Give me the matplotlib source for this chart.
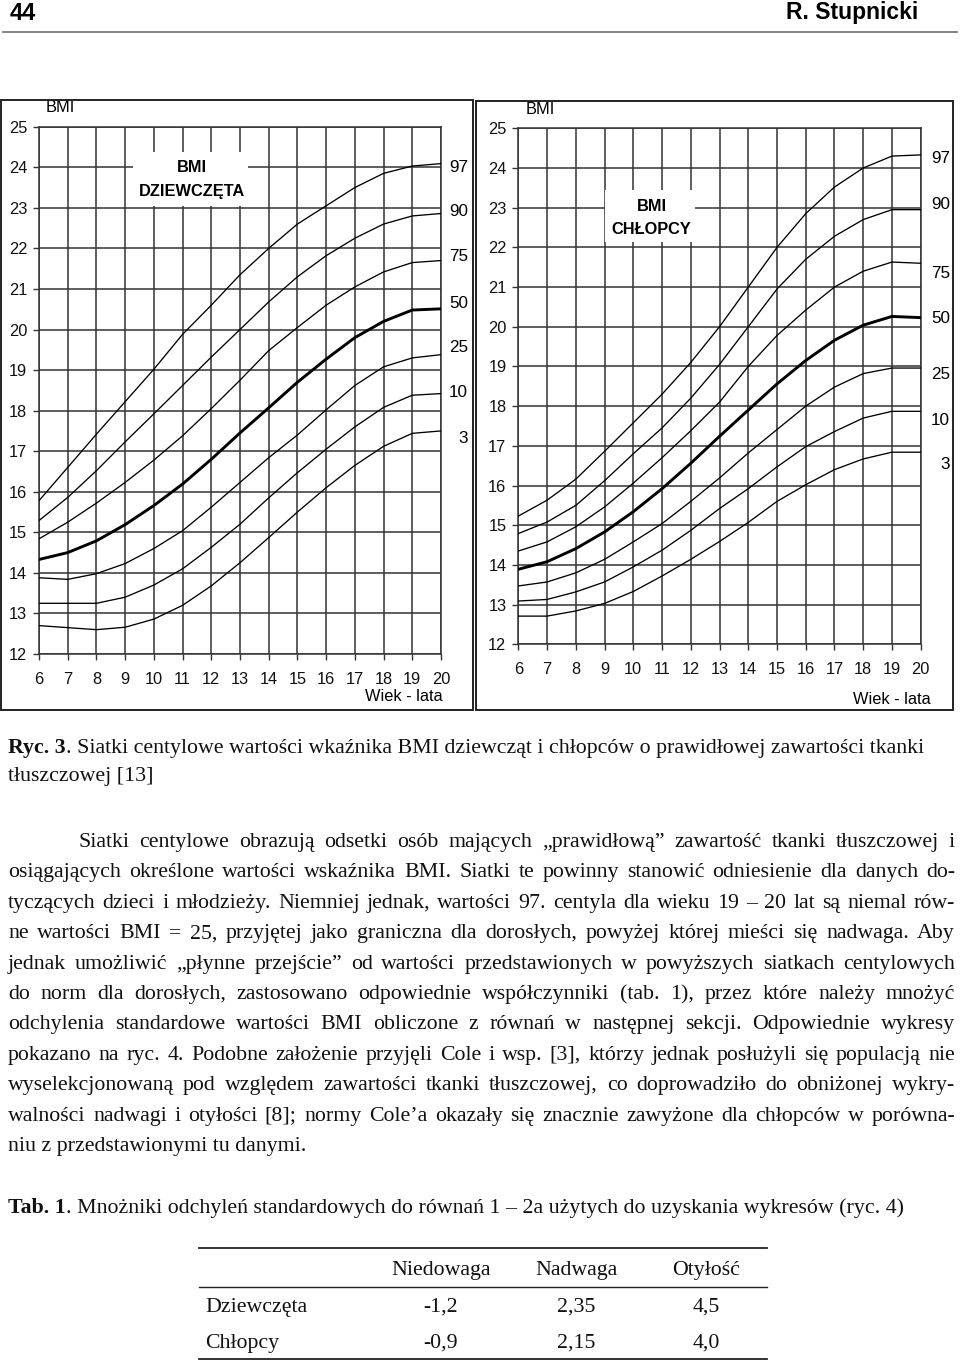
import matplotlib
matplotlib.use("Agg")
import matplotlib.pyplot as plt
from matplotlib.patches import Rectangle

W, H = 960, 1362
SANS = "Liberation Sans"
SERIF = "Liberation Serif"
GRID_C = "#333333"

# --- data (BMI at ages 6..20) -------------------------------------------------
AGES = list(range(6, 21))
CENTILES = [97, 90, 75, 50, 25, 10, 3]

girls_p97 = [15.78, 16.60, 17.42, 18.22, 19.02, 19.88, 20.60, 21.35, 22.00, 22.60, 23.05, 23.50, 23.85, 24.03, 24.09]
girls_p90 = [15.29, 15.86, 16.52, 17.23, 17.92, 18.62, 19.32, 20.00, 20.68, 21.30, 21.82, 22.25, 22.60, 22.80, 22.86]
girls_p75 = [14.84, 15.25, 15.72, 16.23, 16.78, 17.38, 18.05, 18.75, 19.48, 20.05, 20.60, 21.05, 21.42, 21.65, 21.70]
girls_p50 = [14.33, 14.50, 14.79, 15.19, 15.66, 16.19, 16.80, 17.45, 18.07, 18.70, 19.27, 19.80, 20.20, 20.48, 20.51]
girls_p25 = [13.88, 13.84, 13.98, 14.23, 14.60, 15.04, 15.62, 16.23, 16.84, 17.40, 18.02, 18.62, 19.08, 19.30, 19.38]
girls_p10 = [13.25, 13.25, 13.25, 13.40, 13.70, 14.10, 14.63, 15.20, 15.85, 16.47, 17.05, 17.60, 18.08, 18.38, 18.42]
girls_p3  = [12.70, 12.65, 12.60, 12.66, 12.86, 13.20, 13.68, 14.25, 14.87, 15.50, 16.10, 16.65, 17.12, 17.44, 17.50]

boys_p97 = [15.23, 15.63, 16.16, 16.86, 17.58, 18.30, 19.10, 20.00, 21.00, 22.00, 22.85, 23.52, 24.00, 24.30, 24.33]
boys_p90 = [14.79, 15.08, 15.50, 16.12, 16.80, 17.45, 18.20, 19.05, 20.00, 20.95, 21.70, 22.28, 22.70, 22.95, 22.95]
boys_p75 = [14.35, 14.58, 14.96, 15.46, 16.06, 16.70, 17.38, 18.10, 19.00, 19.78, 20.42, 21.00, 21.40, 21.63, 21.60]
boys_p50 = [13.89, 14.08, 14.41, 14.83, 15.34, 15.92, 16.56, 17.24, 17.90, 18.56, 19.15, 19.66, 20.04, 20.26, 20.23]
boys_p25 = [13.47, 13.57, 13.80, 14.14, 14.58, 15.04, 15.60, 16.19, 16.82, 17.41, 18.00, 18.48, 18.82, 18.96, 18.96]
boys_p10 = [13.09, 13.13, 13.32, 13.57, 13.95, 14.37, 14.87, 15.42, 15.92, 16.47, 16.98, 17.36, 17.70, 17.87, 17.87]
boys_p3  = [12.71, 12.71, 12.84, 13.03, 13.33, 13.72, 14.14, 14.59, 15.07, 15.60, 16.02, 16.40, 16.67, 16.84, 16.84]

# table 1
TAB_COLS = ["Niedowaga", "Nadwaga", "Otyłość"]
TAB_ROWS = ["Dziewczęta", "Chłopcy"]
girls_mult = ["-1,2", "2,35", "4,5"]
boys_mult = ["-0,9", "2,15", "4,0"]

CAPTION = ["Siatki centylowe wartości wkaźnika BMI dziewcząt i chłopców o prawidłowej zawartości tkanki",
           "tłuszczowej [13]"]
PARA = [
    "Siatki centylowe obrazują odsetki osób mających „prawidłową” zawartość tkanki tłuszczowej i",
    "osiągających określone wartości wskaźnika BMI. Siatki te powinny stanowić odniesienie dla danych do-",
    "tyczących dzieci i młodzieży. Niemniej jednak, wartości 97. centyla dla wieku 19 – 20 lat są niemal rów-",
    "ne wartości BMI = 25, przyjętej jako graniczna dla dorosłych, powyżej której mieści się nadwaga. Aby",
    "jednak umożliwić „płynne przejście” od wartości przedstawionych w powyższych siatkach centylowych",
    "do norm dla dorosłych, zastosowano odpowiednie współczynniki (tab. 1), przez które należy mnożyć",
    "odchylenia standardowe wartości BMI obliczone z równań w następnej sekcji. Odpowiednie wykresy",
    "pokazano na ryc. 4. Podobne założenie przyjęli Cole i wsp. [3], którzy jednak posłużyli się populacją nie",
    "wyselekcjonowaną pod względem zawartości tkanki tłuszczowej, co doprowadziło do obniżonej wykry-",
    "walności nadwagi i otyłości [8]; normy Cole’a okazały się znacznie zawyżone dla chłopców w porówna-",
    "niu z przedstawionymi tu danymi.",
]
TAB_TITLE = "Mnożniki odchyleń standardowych do równań 1 – 2a użytych do uzyskania wykresów (ryc. 4)"

fig = plt.figure(figsize=(W / 100, H / 100), dpi=100)
R = fig.canvas.get_renderer()

def fy(py): return 1 - py / H
def axes_px(x0, y0, x1, y1):
    return fig.add_axes([x0 / W, 1 - y1 / H, (x1 - x0) / W, (y1 - y0) / H])
def frame(x0, y0, x1, y1):
    fig.add_artist(Rectangle((x0 / W, fy(y1)), (x1 - x0) / W, (y1 - y0) / H,
                             transform=fig.transFigure, fill=False, lw=1.4, ec="#222222"))

# --- header ----------------------------------------------------------------
fig.text(10 / W, fy(13), "44", fontsize=17, family=SANS, weight="bold", va="center")
fig.text(918 / W, fy(13), "R. Stupnicki", fontsize=16.5, family=SANS, weight="bold",
         va="center", ha="right")
fig.add_artist(plt.Line2D([3 / W, 957 / W], [fy(32), fy(32)], color="#777777", lw=1.3))

# --- centile charts ---------------------------------------------------------
LS = 11.8  # chart label size

def chart(ax, series, title, box, title_xy, lab_x, lab_y, xlab_xy):
    ax.set_xlim(6, 20)
    ax.set_ylim(12, 25)
    ax.set_xticks(AGES)
    ax.set_yticks(range(12, 26))
    ax.grid(True, color=GRID_C, lw=1.1)
    ax.set_axisbelow(True)
    for s in ax.spines.values():
        s.set_color(GRID_C); s.set_linewidth(1.1)
    ax.tick_params(axis="y", direction="out", length=4, width=1, color=GRID_C,
                   labelsize=LS, pad=4.5)
    ax.tick_params(axis="x", direction="out", length=4, width=1, color=GRID_C,
                   labelsize=LS, pad=9)
    for lab in ax.get_xticklabels() + ax.get_yticklabels():
        lab.set_family(SANS)
        lab.set_color("#111111")
    for c, vals in zip(CENTILES, series):
        ax.plot(AGES, vals, color="black", lw=2.1 if c == 50 else 0.95, zorder=3,
                solid_joinstyle="round")
    bx0, by0, bx1, by1 = box
    ax.add_patch(Rectangle((bx0, by0), bx1 - bx0, by1 - by0, fc="white", ec="none", zorder=2))
    tx, ty0, ty1 = title_xy
    ax.text(tx, ty0, "BMI", ha="center", va="center", fontsize=LS, family=SANS,
            weight="bold", zorder=4)
    ax.text(tx, ty1, title, ha="center", va="center", fontsize=LS, family=SANS,
            weight="bold", zorder=4)
    for c, y in zip(CENTILES, lab_y):
        ax.text(lab_x, y, str(c), ha="right", va="center", fontsize=LS + 0.5, family=SANS)
    ax.text(6.75, 25.28, "BMI", ha="center", va="bottom", fontsize=LS, family=SANS)
    ax.text(xlab_xy[0], xlab_xy[1], "Wiek - lata", ha="center", va="center",
            fontsize=LS, family=SANS)

frame(1, 100, 473, 710)
frame(476, 101, 953, 710)

axg = axes_px(39, 126.7, 441, 654)
chart(axg, [girls_p97, girls_p90, girls_p75, girls_p50, girls_p25, girls_p10, girls_p3],
      "DZIEWCZĘTA", (9.27, 23.05, 13.28, 24.38), (11.33, 24.0, 23.41), 20.94,
      [24.0, 22.9, 21.8, 20.65, 19.55, 18.45, 17.32], (18.7, 10.94))

axb = axes_px(518.3, 128.3, 920.7, 644.3)
chart(axb, [boys_p97, boys_p90, boys_p75, boys_p50, boys_p25, boys_p10, boys_p3],
      "CHŁOPCY", (9.02, 22.14, 12.15, 23.45), (10.64, 23.04, 22.46), 21.02,
      [24.23, 23.07, 21.35, 20.2, 18.79, 17.65, 16.52], (19.0, 10.62))

# --- text below -------------------------------------------------------------
def tw(s, fs, weight="normal"):
    t = fig.text(0, 0, s, fontsize=fs, family=SERIF, weight=weight)
    w = t.get_window_extent(renderer=R).width
    t.remove()
    return w

def put(x, base, s, fs, weight="normal", ha="left"):
    fig.text(x / W, fy(base), s, fontsize=fs, family=SERIF, weight=weight,
             ha=ha, va="baseline", color="#111111")

# font size so the first caption line ends where the reference line ends
w10 = tw("Ryc. 3", 10, "bold") + tw(". " + CAPTION[0], 10)
FS = 10 * (927 - 8) / w10

def bold_lead(x, base, lead, rest):
    put(x, base, lead, FS, "bold")
    put(x + tw(lead, FS, "bold"), base, rest, FS)

def justified(x0, x1, base, line):
    words = line.split(" ")
    widths = [tw(w, FS) for w in words]
    gap = (x1 - x0 - sum(widths)) / (len(words) - 1)
    x = x0
    for w, ww in zip(words, widths):
        put(x, base, w, FS)
        x += ww + gap

bold_lead(8, 753, "Ryc. 3", ". " + CAPTION[0])
put(8, 781, CAPTION[1], FS)

LEFT, RIGHT = 8, 955
for i, line in enumerate(PARA):
    base = 847 + i * 30.4
    x0 = 78 if i == 0 else LEFT
    if i == len(PARA) - 1:
        put(x0, base, line, FS)
    else:
        justified(x0, RIGHT, base, line)

bold_lead(8, 1213, "Tab. 1", ". " + TAB_TITLE)

# table
TX0, TX1 = 199, 767
COL_X = [441, 576, 706]
for yy, lw in [(1248, 1.3), (1287, 1.0), (1359, 1.3)]:
    fig.add_artist(plt.Line2D([TX0 / W, TX1 / W], [fy(yy), fy(yy)], color="#222222", lw=lw))
for cx, name in zip(COL_X, TAB_COLS):
    put(cx, 1275, name, FS, ha="center")
for ry, name, vals in [(1312, TAB_ROWS[0], girls_mult), (1348, TAB_ROWS[1], boys_mult)]:
    put(205, ry, name, FS)
    for cx, v in zip(COL_X, vals):
        put(cx, ry, v, FS, ha="center")

fig.savefig("out.png", dpi=100)
